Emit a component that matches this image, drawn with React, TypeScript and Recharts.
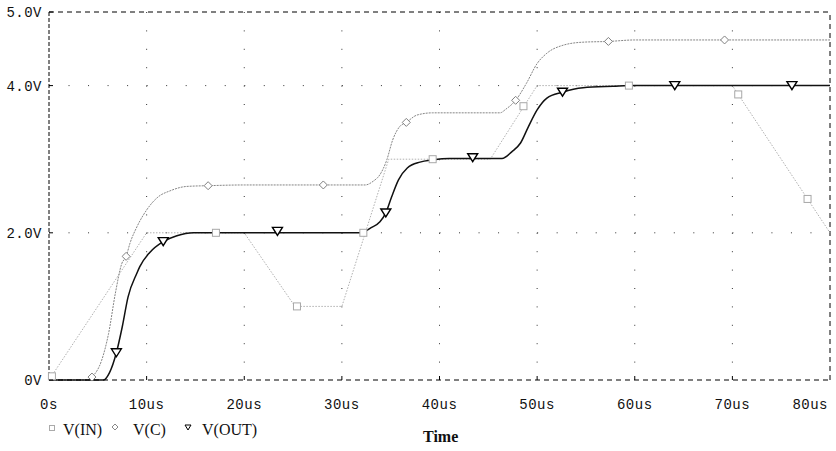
import { LineChart, Line, XAxis, YAxis, CartesianGrid, ReferenceLine } from "recharts";

// axis ticks
const timeTicks = [0, 10, 20, 30, 40, 50, 60, 70, 80];
const timeLabels = ["0s", "10us", "20us", "30us", "40us", "50us", "60us", "70us", "80us"];
const voltTicks = [0, 2, 4, 5];
const voltLabels = ["0V", "2.0V", "4.0V", "5.0V"];
const gridTimes = [10, 20, 30, 40, 50, 60, 70];
const gridVolts = [2, 4];

// [time us, volts]
const vIn: [number, number][] = [
  [0, 0], [10, 2], [20, 2], [25.2, 1], [30, 1], [34.8, 3], [45.2, 3], [50, 4], [70, 4], [80, 2],
];
const vC: [number, number][] = [
  [0, 0], [4, 0], [4.4, 0.04], [5.4, 0.27], [6.1, 0.63], [6.8, 1.18], [7.45, 1.58], [7.9, 1.68],
  [8.3, 1.86], [9, 2.08], [10, 2.31], [11.2, 2.49], [12.4, 2.57], [14.1, 2.63], [16.3, 2.64],
  [20, 2.65], [28, 2.65], [32.4, 2.65], [33.2, 2.7], [33.9, 2.79], [34.6, 2.99], [35.2, 3.26],
  [35.9, 3.44], [36.6, 3.5], [37.7, 3.6], [39.3, 3.63], [46.2, 3.63], [46.8, 3.68], [47.8, 3.8],
  [48.9, 4.03], [50, 4.3], [51, 4.44], [52.7, 4.55], [54.7, 4.59], [57.3, 4.6], [60, 4.62], [80, 4.62],
];
const vOut: [number, number][] = [
  [0, 0], [5.6, 0], [6.2, 0.1], [6.9, 0.37], [7.5, 0.72], [8.1, 1.13], [9, 1.45], [9.3, 1.54],
  [10.3, 1.73], [11.7, 1.88], [13.1, 1.96], [14.8, 2.0], [32, 2.0], [33, 2.07], [33.9, 2.15],
  [34.5, 2.27], [35.1, 2.49], [35.8, 2.72], [36.7, 2.88], [38, 2.96], [39.3, 2.99], [41, 3.01],
  [46.4, 3.01], [47.4, 3.1], [48.3, 3.22], [49.1, 3.44], [50, 3.67], [51, 3.83], [52.6, 3.91],
  [54.7, 3.97], [57.8, 3.99], [60, 4.0], [80, 4.0],
];

// marker positions
const vInMarks: [number, number][] = [
  [0.3, 0.05], [17.1, 2], [25.4, 1], [32.2, 2], [39.3, 3], [48.6, 3.72], [59.4, 4], [70.6, 3.88], [77.7, 2.46],
];
const vCMarks: [number, number][] = [
  [4.4, 0.04], [7.9, 1.68], [16.3, 2.64], [28.1, 2.65], [36.6, 3.5], [47.8, 3.8], [57.3, 4.6], [69.2, 4.62],
];
const vOutMarks: [number, number][] = [
  [6.9, 0.37], [11.7, 1.88], [23.4, 2.02], [34.5, 2.27], [43.4, 3.02], [52.6, 3.91], [64.1, 4.0], [76.1, 4.0],
];

const rows = (pts: [number, number][]) => pts.map(([t, v]) => ({ t, v }));

const tickFont = { fontFamily: "'Liberation Mono', monospace", fontSize: 14, fill: "#111", letterSpacing: 0.5 };

const TimeTick = ({ x, y, payload }: any) => {
  const i = timeTicks.indexOf(payload.value);
  const last = i === timeTicks.length - 1;
  return (
    <g>
      {i > 0 && !last && <line x1={x} x2={x} y1={y} y2={y - 4} stroke="#000" />}
      <text x={x} y={y + 29} textAnchor={last ? "end" : "middle"} {...tickFont}>
        {timeLabels[i]}
      </text>
    </g>
  );
};

const VoltTick = ({ x, y, payload }: any) => {
  const i = voltTicks.indexOf(payload.value);
  return (
    <g>
      <line x1={x} x2={x + 4} y1={y} y2={y} stroke="#000" />
      <text x={x - 7} y={y + 5} textAnchor="end" {...tickFont}>
        {voltLabels[i]}
      </text>
    </g>
  );
};

const square = (p: any) => (
  <rect key={p.key ?? p.index} x={p.cx - 3.5} y={p.cy - 3.5} width={7} height={7} fill="#fff" stroke="#a8a8a8" />
);
const diamond = (p: any) => (
  <polygon
    key={p.key ?? p.index}
    points={`${p.cx},${p.cy - 4} ${p.cx + 4},${p.cy} ${p.cx},${p.cy + 4} ${p.cx - 4},${p.cy}`}
    fill="#fff"
    stroke="#808080"
  />
);
const triangle = (p: any) => (
  <polygon
    key={p.key ?? p.index}
    points={`${p.cx - 5},${p.cy - 4} ${p.cx + 5},${p.cy - 4} ${p.cx},${p.cy + 4}`}
    fill="#fff"
    stroke="#000"
    strokeWidth={1.4}
  />
);

const legendText = { fontFamily: "'Liberation Serif', serif", fontSize: 16, color: "#111", position: "absolute" as const, lineHeight: "16px" };

export default function App() {
  return (
    <div style={{ position: "absolute", left: 0, top: 0, width: 836, height: 451, background: "#fff" }}>
      <LineChart width={836} height={451} data={rows(vIn)} margin={{ top: 12, right: 6, left: 0, bottom: 41 }}>
        <CartesianGrid horizontal={false} verticalValues={gridTimes} stroke="#333" strokeDasharray="1 17.4" />
        <CartesianGrid vertical={false} horizontalValues={gridVolts} stroke="#333" strokeDasharray="1 18.525" />
        <XAxis
          dataKey="t"
          type="number"
          domain={[0, 80]}
          ticks={timeTicks}
          tick={<TimeTick />}
          tickSize={0}
          tickMargin={0}
          height={30}
          axisLine={{ stroke: "#000", strokeDasharray: "5 4" }}
          tickLine={false}
        />
        <YAxis
          type="number"
          domain={[0, 5]}
          ticks={voltTicks}
          tick={<VoltTick />}
          tickSize={0}
          tickMargin={0}
          width={49}
          axisLine={{ stroke: "#000", strokeDasharray: "4 2" }}
          tickLine={false}
        />
        <ReferenceLine y={5} stroke="#000" strokeDasharray="5 4" />
        <ReferenceLine x={80} stroke="#000" strokeDasharray="5 4" />

        <Line data={rows(vIn)} dataKey="v" type="linear" stroke="#b0b0b0" strokeDasharray="1.5 1.5" dot={false} activeDot={false} isAnimationActive={false} />
        <Line data={rows(vC)} dataKey="v" type="monotone" stroke="#858585" strokeDasharray="2 1" dot={false} activeDot={false} isAnimationActive={false} />
        <Line data={rows(vOut)} dataKey="v" type="monotone" stroke="#111" strokeWidth={1.5} dot={false} activeDot={false} isAnimationActive={false} />

        <Line data={rows(vInMarks)} dataKey="v" stroke="none" dot={square} activeDot={false} isAnimationActive={false} />
        <Line data={rows(vCMarks)} dataKey="v" stroke="none" dot={diamond} activeDot={false} isAnimationActive={false} />
        <Line data={rows(vOutMarks)} dataKey="v" stroke="none" dot={triangle} activeDot={false} isAnimationActive={false} />
      </LineChart>

      <svg style={{ position: "absolute", left: 0, top: 0 }} width={836} height={451} pointerEvents="none">
        <rect x={49.5} y={425.5} width={5} height={5} fill="#fff" stroke="#aaa" />
        <polygon points="115,424 118,427 115,430 112,427" fill="#fff" stroke="#888" />
        <polygon points="185,425 191,425 188,430" fill="#fff" stroke="#000" />
      </svg>
      <div style={{ ...legendText, left: 63, top: 422 }}>V(IN)</div>
      <div style={{ ...legendText, left: 133, top: 422 }}>V(C)</div>
      <div style={{ ...legendText, left: 202, top: 422 }}>V(OUT)</div>
      <div style={{ ...legendText, left: 423, top: 429, fontWeight: "bold" }}>Time</div>
    </div>
  );
}
